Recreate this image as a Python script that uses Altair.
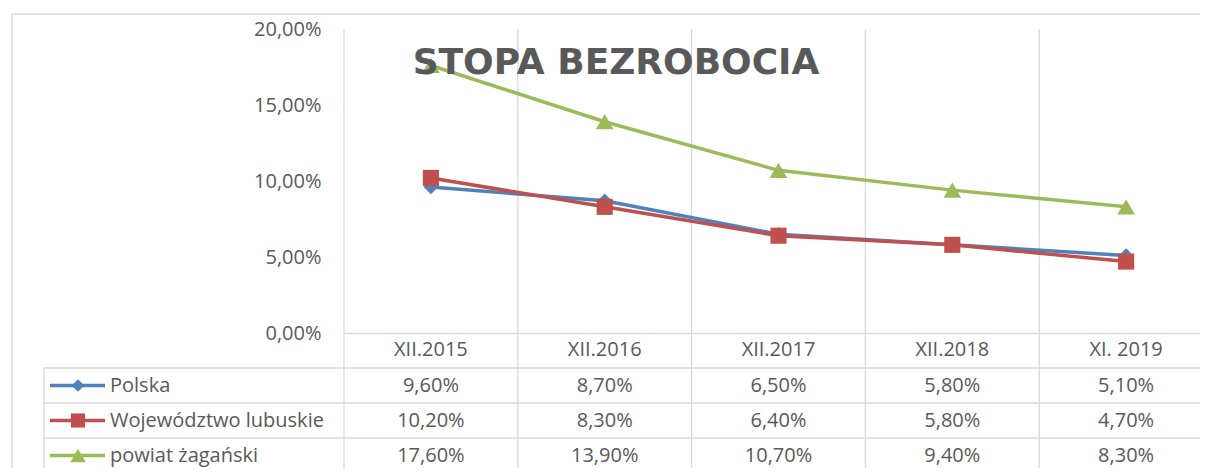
import altair as alt
import pandas as pd

# ---- data ----
categories = ["XII.2015", "XII.2016", "XII.2017", "XII.2018", "XI. 2019"]
series_names = ["Polska", "Województwo lubuskie", "powiat żagański"]
polska = [9.6, 8.7, 6.5, 5.8, 5.1]
lubuskie = [10.2, 8.3, 6.4, 5.8, 4.7]
zaganski = [17.6, 13.9, 10.7, 9.4, 8.3]
y_ticks = [0, 0.05, 0.10, 0.15, 0.20]
title_text = "STOPA BEZROBOCIA"

# ---- style ----
colors = ["#4F81BD", "#C0504D", "#9BBB59"]
shapes = ["diamond", "square", "triangle-up"]
marker_sizes = [210, 310, 290]
legend_marker_sizes = [160, 240, 210]
GRID = "#D9D9D9"
TXT = "#595959"
FONT = "Open Sans"
FS = 20
W, H = 856, 304          # view (visible part) size
X_RANGE = 869            # the five columns continue slightly past the window edge
ROW_TOP = H + 35
ROW_H = 35
BOTTOM = H + 160

rows = []
for s, vals in zip(series_names, [polska, lubuskie, zaganski]):
    for c, v in zip(categories, vals):
        rows.append({"series": s, "category": c, "value": v / 100,
                     "label": f"{v:.2f}".replace(".", ",") + "%"})
df = pd.DataFrame(rows)
cat_df = pd.DataFrame({"category": categories})
ser_df = pd.DataFrame({"series": series_names})
one = pd.DataFrame({"t": [title_text]})

xscale = alt.Scale(domain=categories, range=[0, X_RANGE], paddingInner=0, paddingOuter=0)
xaxis = alt.Axis(labelFont=FONT, labelFontSize=FS, labelColor=TXT, labelPadding=6,
                 ticks=False, domain=True, domainColor=GRID, domainWidth=1.3,
                 grid=False, labelAngle=0, title=None)
yaxis = alt.Axis(values=y_ticks,
                 labelExpr="replace(format(datum.value, '.2%'), '.', ',')",
                 labelFont=FONT, labelFontSize=FS, labelColor=TXT, labelPadding=23,
                 ticks=False, domain=False, grid=False, title=None)
yscale = alt.Scale(domain=[0, 0.2], nice=False, zero=True)
tscale = alt.Scale(type="band", domain=series_names,
                   range=[ROW_TOP, ROW_TOP + 3 * ROW_H], paddingInner=0, paddingOuter=0)
color = alt.Color("series:N", scale=alt.Scale(domain=series_names, range=colors), legend=None)
shape = alt.Shape("series:N", scale=alt.Scale(domain=series_names, range=shapes), legend=None)

def xenc(**kw):
    return alt.X("category:N", sort=categories, scale=xscale, axis=xaxis, title=None, **kw)

# vertical grid / table column lines at band edges
vrules = alt.Chart(cat_df).mark_rule(color=GRID, strokeWidth=1.3).encode(
    x=xenc(bandPosition=0), y=alt.value(0), y2=alt.value(BOTTOM))

# outer chart border (left + top)
border_left = alt.Chart(one).mark_rule(color=GRID, strokeWidth=1.3).encode(
    x=alt.value(-332), y=alt.value(-15), y2=alt.value(BOTTOM))
border_top = alt.Chart(one).mark_rule(color=GRID, strokeWidth=1.3).encode(
    x=alt.value(-332), x2=alt.value(X_RANGE + 10), y=alt.value(-15))

# table row lines and left border
hrules = alt.Chart(ser_df).mark_rule(color=GRID, strokeWidth=1.3).encode(
    y=alt.Y("series:N", scale=tscale, axis=None, bandPosition=0),
    x=alt.value(-300), x2=alt.value(X_RANGE + 10))
table_left = alt.Chart(one).mark_rule(color=GRID, strokeWidth=1.3).encode(
    x=alt.value(-300), y=alt.value(ROW_TOP), y2=alt.value(BOTTOM))

lines = alt.Chart(df).mark_line(strokeWidth=3.5).encode(
    x=xenc(), y=alt.Y("value:Q", scale=yscale, axis=yaxis, title=None),
    color=color, detail="series:N")

points = alt.Chart(df).mark_point(filled=True, opacity=1).encode(
    x=xenc(), y=alt.Y("value:Q", scale=yscale, axis=None),
    color=color, shape=shape,
    size=alt.Size("series:N", scale=alt.Scale(domain=series_names, range=marker_sizes), legend=None))

cells = alt.Chart(df).mark_text(font=FONT, fontSize=FS, color=TXT).encode(
    x=xenc(), y=alt.Y("series:N", scale=tscale, axis=None), text="label:N")

leg_text = alt.Chart(ser_df).mark_text(font=FONT, fontSize=FS, color=TXT, align="left").encode(
    x=alt.value(-234), y=alt.Y("series:N", scale=tscale, axis=None), text="series:N")
leg_line = alt.Chart(ser_df).mark_rule(strokeWidth=3.5).encode(
    x=alt.value(-294), x2=alt.value(-239), y=alt.Y("series:N", scale=tscale, axis=None),
    color=color)
leg_pts = alt.Chart(ser_df).mark_point(filled=True, opacity=1).encode(
    x=alt.value(-266), y=alt.Y("series:N", scale=tscale, axis=None),
    color=color, shape=shape,
    size=alt.Size("series:N", scale=alt.Scale(domain=series_names, range=legend_marker_sizes), legend=None))

title = alt.Chart(one).mark_text(font="DejaVu Sans", fontWeight="bold", fontSize=36,
                                 color=TXT, align="center", baseline="alphabetic").encode(
    x=alt.value(272), y=alt.value(45), text="t:N")

chart = alt.layer(
    vrules, border_left, border_top, hrules, table_left,
    lines, points, cells, leg_text, leg_line, leg_pts, title
).resolve_scale(y="independent", size="independent").properties(
    width=W, height=H,
    autosize=alt.AutoSizeParams(type="none"),
    padding={"left": 336, "top": 21, "right": 0, "bottom": 135},
).configure_view(stroke=None)

chart.save("out.html", embed_options={"renderer": "svg", "actions": False})
